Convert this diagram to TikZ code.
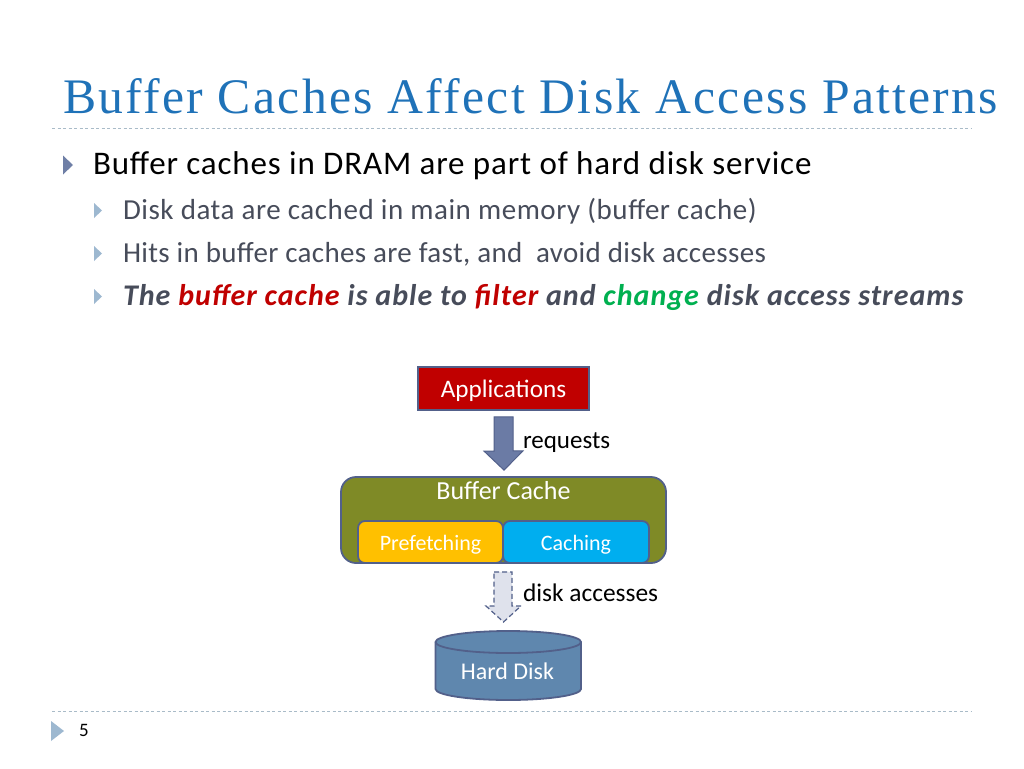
\documentclass[tikz,border=0pt]{standalone}
\usepackage{fontspec}
\setmainfont{Carlito}
\newfontfamily\titlefont[LetterSpace=4.6]{Liberation Serif}
\usetikzlibrary{calc}
\definecolor{titleblue}{HTML}{1F72B8}
\definecolor{rulegray}{HTML}{A9BBC8}
\definecolor{bodygray}{HTML}{474C5A}
\definecolor{bulletA}{HTML}{6F7FA6}
\definecolor{bulletB}{HTML}{9DB8D0}
\definecolor{appred}{HTML}{C00000}
\definecolor{edge}{HTML}{52608A}
\definecolor{olive}{HTML}{7F8A26}
\definecolor{amber}{HTML}{FFC000}
\definecolor{sky}{HTML}{00AEEF}
\definecolor{diskblue}{HTML}{5F87AE}
\definecolor{arrowblue}{HTML}{6B7BA5}
\definecolor{paleblue}{HTML}{DFE2EC}
\definecolor{greentext}{HTML}{00B050}
\tikzset{
  x=1pt,y=-1pt,
  txt/.style={anchor=base west,inner sep=0pt,outer sep=0pt},
  rulerline/.style={rulegray,line width=.9pt,dash pattern=on 3pt off 2.5pt},
  bigbullet/.style={fill=bulletA,draw=none},
  subbullet/.style={fill=bulletB,draw=none},
  boxlabel/.style={text=white,font=\fontsize{25.2}{28}\selectfont,inner sep=0pt},
  smalllabel/.style={text=white,font=\fontsize{22}{26}\selectfont,inner sep=0pt,text height=16pt,text depth=0pt},
  arrowlabel/.style={txt,text=black,font=\fontsize{25}{28}\selectfont},
  blockbox/.style={draw=edge,line width=1.8pt,minimum width=#1,inner sep=0pt},
}
\begin{document}
\begin{tikzpicture}
\useasboundingbox (0,0) rectangle (1024,768);
\fill[white] (0,0) rectangle (1024,768);
% title and rules
\node[txt,text=titleblue] (title) at (63,113) {\titlefont\fontsize{49.7}{56}\selectfont Buffer Caches Affect Disk Access Patterns};
\coordinate (r1a) at (52,128); \coordinate (r1b) at (972,128);
\coordinate (r2a) at (52,711.5); \coordinate (r2b) at (972,711.5);
\draw[rulerline] (r1a) -- (r1b);
\draw[rulerline] (r2a) -- (r2b);
% bullets
\fill[bigbullet] (63,155.5) -- (73,165) -- (63,174.5) -- cycle;
\fill[subbullet] (94,203) -- (102,210.5) -- (94,218) -- cycle;
\fill[subbullet] (94,246) -- (102,253.5) -- (94,261) -- cycle;
\fill[subbullet] (94,289) -- (102,296.5) -- (94,304) -- cycle;
\fill[subbullet] (51,721) -- (64,731) -- (51,741) -- cycle;
% body text
\node[txt,text=black,font=\fontsize{33}{38}\selectfont\addfontfeatures{LetterSpace=2.6}] (l1) at (93,174) {Buffer caches in DRAM are part of hard disk service};
\node[txt,text=bodygray,font=\fontsize{29}{34}\selectfont\addfontfeatures{LetterSpace=1.9}] (l2) at (123,219) {Disk data are cached in main memory (buffer cache)};
\node[txt,text=bodygray,font=\fontsize{29}{34}\selectfont\addfontfeatures{LetterSpace=1.2}] (l3) at (123,262) {Hits in buffer caches are fast, and\ \ avoid disk accesses};
\node[txt,text=bodygray,font=\fontsize{30}{34}\selectfont\bfseries\itshape\addfontfeatures{LetterSpace=3.4}] (l4) at (123,305) {The \textcolor{appred}{buffer cache} is able to \textcolor{appred}{filter} and \textcolor{greentext}{change} disk access streams};
\node[txt,text=black,font=\fontsize{19}{22}\selectfont] (pg) at (79,736) {5};
% diagram
\node[blockbox=171pt,minimum height=43pt,fill=appred,boxlabel,text height=17pt,text depth=0pt] (apps) at (503.5,388.5) {Applications};
\node[draw=edge,line width=1.8pt,fill=olive,rounded corners=15pt,minimum width=325pt,minimum height=86pt,inner sep=0pt] (cache) at (503.5,520) {};
\node[boxlabel,anchor=base,font=\fontsize{26}{30}\selectfont] (cachelabel) at (503.5,499) {Buffer Cache};
\node[draw=edge,line width=1.8pt,fill=amber,rounded corners=7pt,minimum width=145pt,minimum height=42pt,smalllabel] (pre) at (430.5,542) {Prefetching};
\node[draw=edge,line width=1.8pt,fill=sky,rounded corners=7pt,minimum width=146pt,minimum height=42pt,smalllabel] (cach) at (576,542) {Caching};
% disk
\coordinate (dw) at (435.5,642);
\coordinate (disktop) at (507.5,631);
\draw[edge,line width=1.8pt,fill=diskblue] (dw) arc[start angle=180,end angle=0,x radius=72.75pt,y radius=11pt]
  -- (581,689) arc[start angle=0,end angle=-180,x radius=72.75pt,y radius=11pt] -- cycle;
\draw[edge,line width=1.8pt] (dw) arc[start angle=180,end angle=360,x radius=72.75pt,y radius=11pt];
\node[smalllabel,font=\fontsize{24}{28}\selectfont,text height=15pt] (disk) at (507.5,672) {Hard Disk};
% block arrows
\draw[edge,line width=1pt,fill=arrowblue]
  ($(apps.south)+(-9.5,6)$) -- ++(19,0) -- ++(0,34) -- ++(10,0) -- ($(cache.north)+(0.5,-6)$) -- ++(-20,-19) -- ++(10,0) -- cycle;
\node[arrowlabel] (req) at (523,448) {requests};
\draw[edge,line width=1.2pt,fill=paleblue,dash pattern=on 5pt off 3pt]
  ($(cache.south)+(-9.5,8)$) -- ++(18,0) -- ++(0,34) -- ++(9,0) -- ($(disktop)+(-4,-9)$) -- ++(-17.5,-16) -- ++(8,0) -- cycle;
\node[arrowlabel,font=\fontsize{25.4}{30}\selectfont] (acc) at (523,601) {disk accesses};
\end{tikzpicture}
\end{document}
